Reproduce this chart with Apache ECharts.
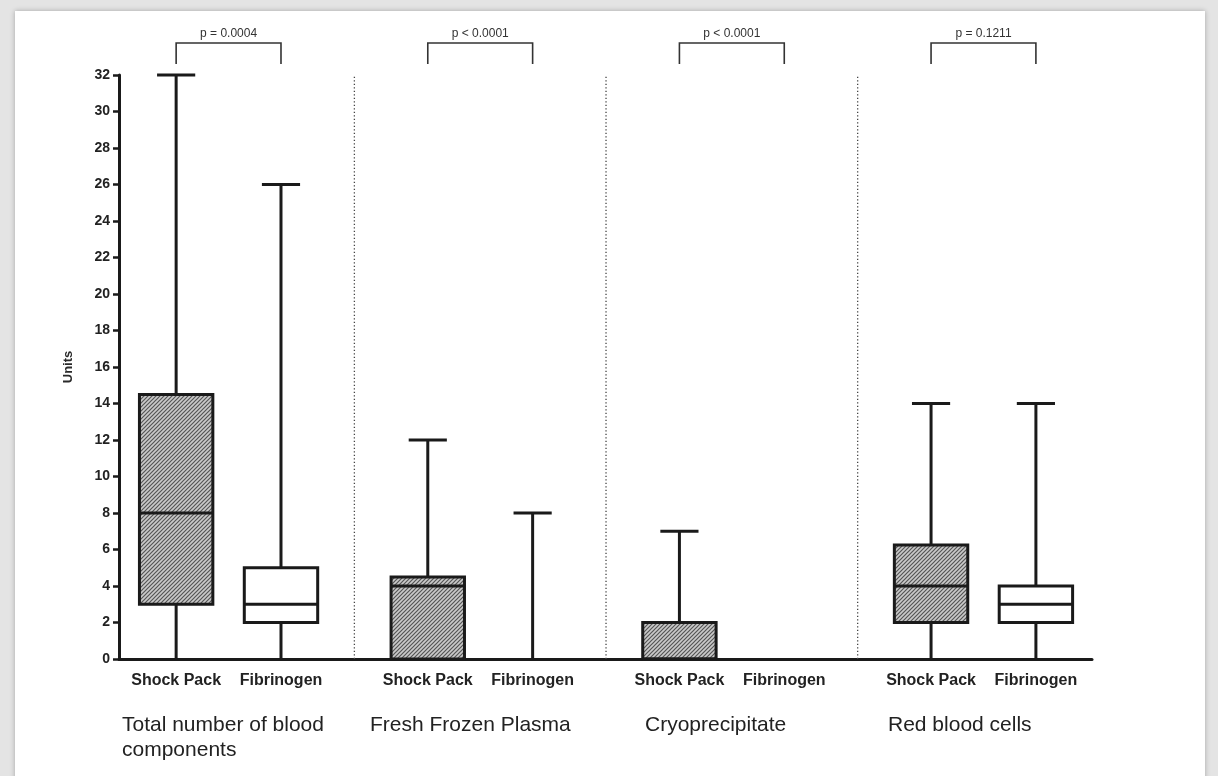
<!DOCTYPE html>
<html>
<head>
<meta charset="utf-8">
<script src="https://cdn.jsdelivr.net/npm/echarts@6/dist/echarts.min.js"></script>
<style>
  html, body { margin: 0; padding: 0; width: 1218px; height: 776px; overflow: hidden; background: #e4e4e4; }
  #card { position: absolute; left: 15px; top: 11px; width: 1190px; height: 780px; background: #ffffff; box-shadow: 0 0 5px rgba(0,0,0,0.28); }
  #chart { position: absolute; left: 0; top: 0; width: 1218px; height: 776px; }
</style>
</head>
<body>
<div id="card"></div>
<div id="chart"></div>
<script>
// ---- data ----
const groups = ['Total number of blood\ncomponents', 'Fresh Frozen Plasma', 'Cryoprecipitate', 'Red blood cells'];
const members = ['Shock Pack', 'Fibrinogen'];
const pValues = ['p = 0.0004', 'p < 0.0001', 'p < 0.0001', 'p = 0.1211'];
// [min, Q1, median, Q3, max] per group
const shockPack = [
  [0, 3, 8, 14.5, 32],
  [0, 0, 4, 4.5, 12],
  [0, 0, 0, 2, 7],
  [0, 2, 4, 6.25, 14]
];
const fibrinogen = [
  [0, 2, 3, 5, 26],
  [0, 0, 0, 0, 8],
  [0, 0, 0, 0, 0],
  [0, 2, 3, 4, 14]
];
const yTicks = { min: 0, max: 32, interval: 2 };

// ---- layout helpers ----
const GROUP_STEP = 2.4;   // spacing between groups (x units)
const BOX_W = 0.7;        // box width in x units
const posOf = (g, m) => g * GROUP_STEP + m;
const series = [shockPack, fibrinogen];

const boxData = [];
groups.forEach((g, gi) => {
  members.forEach((m, mi) => {
    const s = series[mi][gi];
    boxData.push([posOf(gi, mi), s[0], s[1], s[2], s[3], s[4], mi === 0 ? 1 : 0]);
  });
});
const labelPositions = boxData.map(d => d[0]);
const separators = [1, 2, 3].map(g => posOf(g, 0) - (GROUP_STEP - 1) / 2);

// hatch pattern
function makeHatch() {
  const p = 4;
  const c = document.createElement('canvas');
  c.width = p; c.height = p;
  const ctx = c.getContext('2d');
  ctx.fillStyle = '#cacaca';
  ctx.fillRect(0, 0, p, p);
  ctx.strokeStyle = '#555555';
  ctx.lineWidth = 1.2;
  ctx.beginPath();
  ctx.moveTo(0, p); ctx.lineTo(p, 0);
  ctx.moveTo(-1, 1); ctx.lineTo(1, -1);
  ctx.moveTo(p - 1, p + 1); ctx.lineTo(p + 1, p - 1);
  ctx.stroke();
  return c;
}
const hatch = { image: makeHatch(), repeat: 'repeat' };

const chart = echarts.init(document.getElementById('chart'), null, { renderer: 'canvas' });
const FONT = '"Liberation Sans", Arial, Helvetica, sans-serif';

function renderBox(params, api) {
  const x = api.value(0);
  const mn = api.value(1), q1 = api.value(2), md = api.value(3), q3 = api.value(4), mx = api.value(5);
  const filled = api.value(6) === 1;
  const half = api.size([BOX_W, 0])[0] / 2;
  const capHalf = half * 0.52;
  const pMin = api.coord([x, mn]), pQ1 = api.coord([x, q1]), pMd = api.coord([x, md]);
  const pQ3 = api.coord([x, q3]), pMax = api.coord([x, mx]);
  const cx = pMin[0];
  const lw = 3;
  const stroke = '#1a1a1a';
  const children = [];
  if (mx > q3) {
    children.push({ type: 'line', shape: { x1: cx, y1: pQ3[1], x2: cx, y2: pMax[1] }, style: { stroke, lineWidth: lw } });
    children.push({ type: 'line', shape: { x1: cx - capHalf, y1: pMax[1], x2: cx + capHalf, y2: pMax[1] }, style: { stroke, lineWidth: lw } });
  }
  if (mn < q1) {
    children.push({ type: 'line', shape: { x1: cx, y1: pQ1[1], x2: cx, y2: pMin[1] }, style: { stroke, lineWidth: lw } });
  }
  if (q3 > q1) {
    children.push({ type: 'rect', shape: { x: cx - half, y: pQ3[1], width: half * 2, height: pQ1[1] - pQ3[1] },
      style: { fill: filled ? hatch : '#ffffff', stroke, lineWidth: lw } });
    children.push({ type: 'line', shape: { x1: cx - half, y1: pMd[1], x2: cx + half, y2: pMd[1] }, style: { stroke, lineWidth: lw } });
  }
  return { type: 'group', children };
}

function renderBracket(params, api) {
  const a = api.coord([api.value(0), yTicks.max]);
  const b = api.coord([api.value(1), yTicks.max]);
  const top = a[1];
  const yLine = top - 32, yEnd = top - 11;
  return {
    type: 'group',
    children: [
      { type: 'polyline', shape: { points: [[a[0], yEnd], [a[0], yLine], [b[0], yLine], [b[0], yEnd]] },
        style: { stroke: '#333', lineWidth: 1.6, fill: null } },
      { type: 'text', x: (a[0] + b[0]) / 2, y: yLine - 9,
        style: { text: pValues[params.dataIndex], fill: '#333', font: '12px ' + FONT, align: 'center', verticalAlign: 'middle' } }
    ]
  };
}

function renderSep(params, api) {
  const a = api.coord([api.value(0), yTicks.min]);
  const b = api.coord([api.value(0), yTicks.max]);
  return { type: 'line', shape: { x1: a[0], y1: a[1], x2: b[0], y2: b[1] },
    style: { stroke: '#444', lineWidth: 1.3, lineDash: [1.3, 2.2] } };
}

const option = {
  backgroundColor: 'transparent',
  animation: false,
  grid: { left: 119, right: 126, top: 75, bottom: 117, containLabel: false },
  xAxis: {
    type: 'value',
    min: posOf(0, 0) - 0.545,
    max: posOf(3, 1) + 0.535,
    splitLine: { show: false },
    axisLine: { show: true, onZero: false, lineStyle: { color: '#1a1a1a', width: 3 } },
    axisTick: { show: false },
    axisLabel: {
      customValues: labelPositions,
      margin: 14,
      color: '#222',
      fontWeight: 'bold',
      fontSize: 16,
      fontFamily: FONT,
      formatter: (v) => {
        const i = labelPositions.findIndex(p => Math.abs(p - v) < 1e-6);
        return i >= 0 ? members[i % 2] : '';
      }
    }
  },
  yAxis: {
    type: 'value',
    min: yTicks.min, max: yTicks.max, interval: yTicks.interval,
    name: 'Units',
    nameLocation: 'middle',
    nameGap: 44,
    nameTextStyle: { color: '#2a2a2a', fontWeight: 'bold', fontSize: 13, fontFamily: FONT },
    splitLine: { show: false },
    axisLine: { show: true, onZero: false, lineStyle: { color: '#1a1a1a', width: 3 } },
    axisTick: { show: true, length: 6, lineStyle: { color: '#1a1a1a', width: 2.5 } },
    axisLabel: { color: '#222', fontWeight: 'bold', fontSize: 14, fontFamily: FONT, margin: 9 }
  },
  series: [
    { type: 'custom', name: 'separators', renderItem: renderSep, data: separators.map(s => [s]), clip: false, z: 1 },
    { type: 'custom', name: 'boxes', renderItem: renderBox, data: boxData, clip: false, z: 3,
      encode: { x: 0, y: [1, 2, 3, 4, 5] } },
    { type: 'custom', name: 'brackets', renderItem: renderBracket,
      data: groups.map((g, gi) => [posOf(gi, 0), posOf(gi, 1)]), clip: false, z: 3,
      encode: { x: [0, 1] } }
  ],
  graphic: groups.map((g, gi) => ({
    type: 'text',
    left: [122, 370, 645, 888][gi],
    top: 713,
    style: { text: g, fill: '#222', font: '21px ' + FONT, lineHeight: 25 }
  }))
};
chart.setOption(option);
</script>
</body>
</html>
